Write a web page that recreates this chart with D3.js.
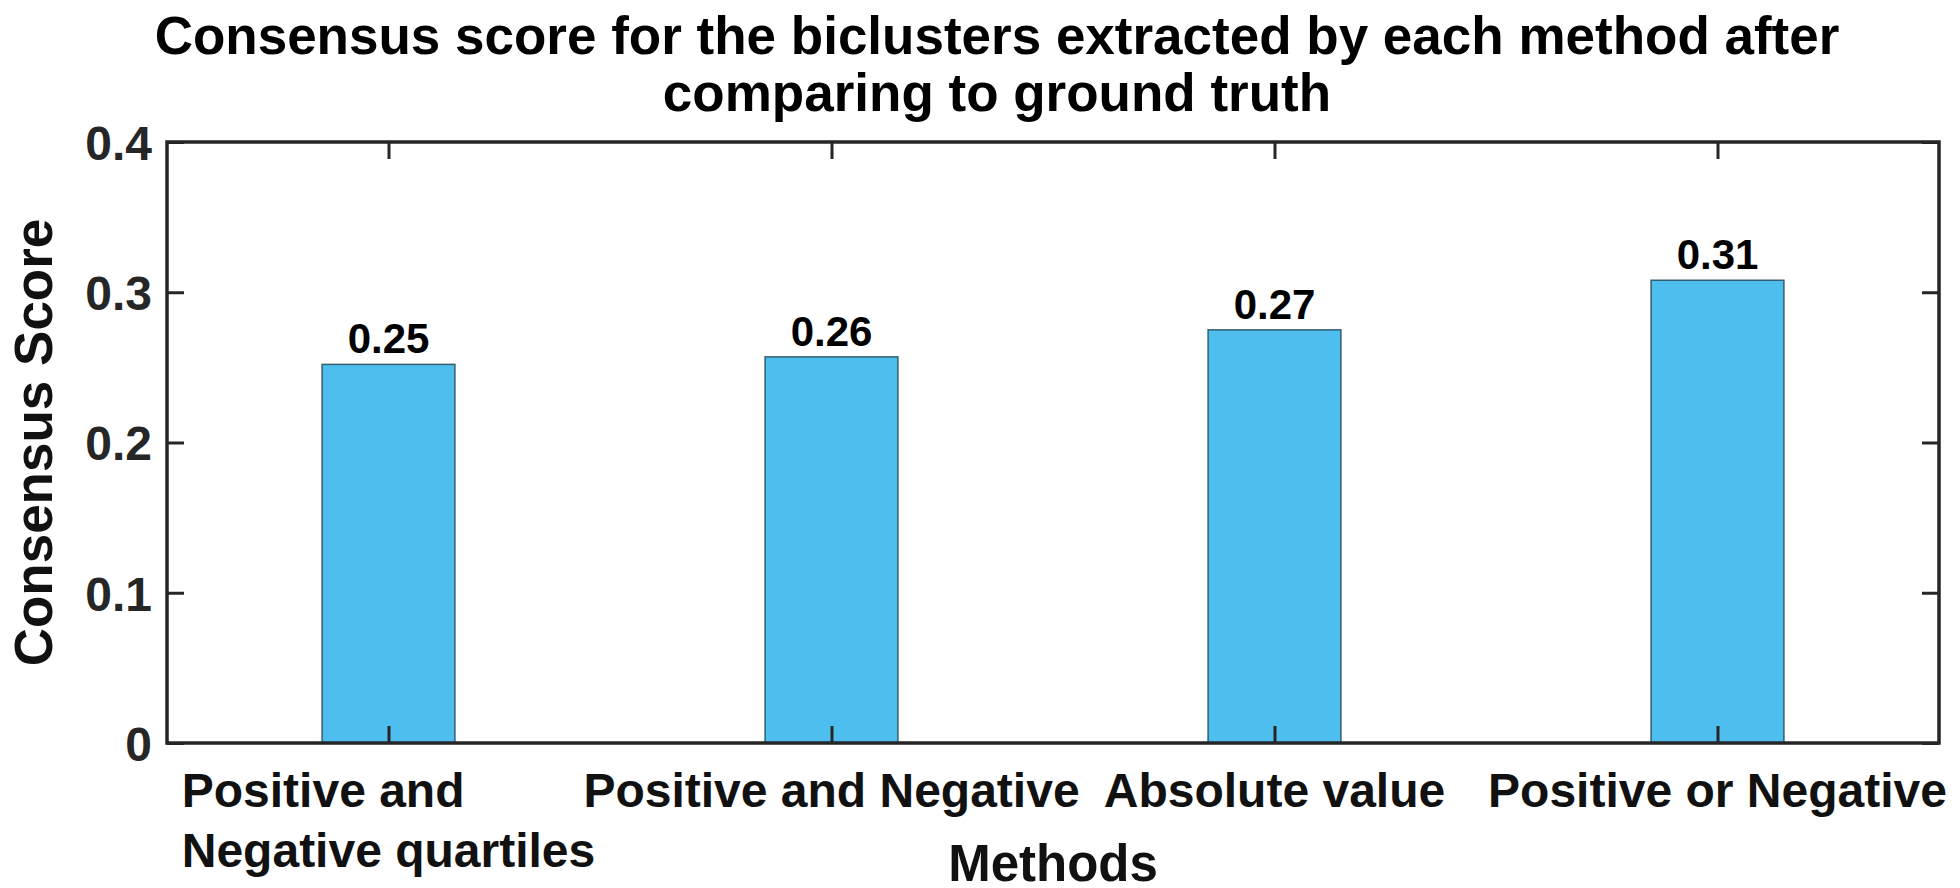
<!DOCTYPE html>
<html>
<head>
  <meta charset='utf-8'>
  <title>Consensus score</title>
  <style type='text/css'>
body{
  margin:0;
  background:#fff;
}
text{
  font-family:'Liberation Sans', Arial, sans-serif;
  font-weight:bold;
}
  </style>
</head>
<body>
<div id='chart'></div>
<script src='https://d3js.org/d3.v7.min.js'></script>
<script type='text/javascript'>

// data
var methods = [['Positive and', 'Negative quartiles'], ['Positive and Negative'], ['Absolute value'], ['Positive or Negative']];
var scores = [0.252, 0.257, 0.275, 0.308];
var scoreLabels = ['0.25', '0.26', '0.27', '0.31'];
var yTicks = [0, 0.1, 0.2, 0.3, 0.4];
var yTickLabels = ['0', '0.1', '0.2', '0.3', '0.4'];
var titleLines = ['Consensus score for the biclusters extracted by each method after', 'comparing to ground truth'];

var W = 1960, H = 888;
// plot box (note: "top" is reserved on window, so use other names)
var boxLeft = 167, boxRight = 1939, boxTop = 142, boxBottom = 743;
var axisColor = '#262626';

var svg = d3.select('#chart').append('svg')
    .attr('width', W)
    .attr('height', H);

var x = d3.scaleBand()
    .domain(d3.range(methods.length))
    .range([boxLeft, boxRight])
    .paddingInner(0.7)
    .paddingOuter(0.35);

var y = d3.scaleLinear()
    .domain([0, 0.4])
    .range([boxBottom, boxTop]);

var xc = function (i) { return x(i) + x.bandwidth() / 2; };

// bars
svg.selectAll('rect.bar')
  .data(scores)
  .enter()
  .append('rect')
    .attr('class', 'bar')
    .attr('x', function (d, i) { return x(i); })
    .attr('y', function (d) { return y(d); })
    .attr('width', x.bandwidth())
    .attr('height', function (d) { return y(0) - y(d); })
    .style('fill', '#4DBEEE')
    .style('stroke', '#1f3f4f')
    .style('stroke-opacity', 0.8)
    .style('stroke-width', 1.5);

// value labels above bars
svg.selectAll('text.val')
  .data(scores)
  .enter()
  .append('text')
    .attr('class', 'val')
    .attr('x', function (d, i) { return xc(i); })
    .attr('y', function (d) { return y(d) - 11; })
    .style('text-anchor', 'middle')
    .style('font-size', '42px')
    .style('fill', '#000')
    .text(function (d, i) { return scoreLabels[i]; });

// axes, ticks pointing inward like matlab
var tickLen = 17;
var xTickScale = d3.scaleOrdinal().domain(d3.range(methods.length)).range(d3.range(methods.length).map(xc));

var gLeft = svg.append('g')
    .attr('transform', 'translate(' + boxLeft + ',0)')
    .call(d3.axisLeft(y).tickValues(yTicks).tickSize(-tickLen).tickPadding(15)
      .tickFormat(function (d, i) { return yTickLabels[i]; }));
gLeft.selectAll('text')
    .attr('dy', '0.36em')
    .style('font-size', '48px')
    .style('fill', axisColor);

var gRight = svg.append('g')
    .attr('transform', 'translate(' + boxRight + ',0)')
    .call(d3.axisRight(y).tickValues(yTicks).tickSize(-tickLen).tickFormat(''));

var gBottom = svg.append('g')
    .attr('transform', 'translate(0,' + boxBottom + ')')
    .call(d3.axisBottom(xTickScale).tickSize(-tickLen).tickFormat(''));

var gTop = svg.append('g')
    .attr('transform', 'translate(0,' + boxTop + ')')
    .call(d3.axisTop(xTickScale).tickSize(-tickLen).tickFormat(''));

[gLeft, gRight, gBottom, gTop].forEach(function (g) {
  g.select('.domain').remove();
  g.selectAll('line').style('stroke', axisColor).style('stroke-width', 3);
});

// box
svg.append('rect')
    .attr('x', boxLeft)
    .attr('y', boxTop)
    .attr('width', boxRight - boxLeft)
    .attr('height', boxBottom - boxTop)
    .style('fill', 'none')
    .style('stroke', axisColor)
    .style('stroke-width', 3.5);

// category labels: lines left aligned inside a block centred on the tick
methods.forEach(function (lines, i) {
  var g = svg.append('g');
  var texts = g.selectAll('text')
    .data(lines)
    .enter()
    .append('text')
      .attr('y', function (d, j) { return 807 + j * 60; })
      .style('font-size', '48px')
      .style('fill', '#111')
      .text(function (d) { return d; });
  var w = 0;
  texts.each(function () { w = Math.max(w, this.getComputedTextLength()); });
  texts.attr('x', xc(i) - w / 2);
});

// axis titles
svg.append('text')
    .attr('x', (boxLeft + boxRight) / 2)
    .attr('y', 881)
    .style('text-anchor', 'middle')
    .style('font-size', '51px')
    .style('fill', '#111')
    .text('Methods');

svg.append('text')
    .attr('transform', 'translate(52,' + (boxTop + boxBottom) / 2 + ') rotate(-90)')
    .style('text-anchor', 'middle')
    .style('font-size', '53px')
    .style('fill', '#111')
    .text('Consensus Score');

// chart title on two lines
svg.selectAll('text.title')
  .data(titleLines)
  .enter()
  .append('text')
    .attr('class', 'title')
    .attr('x', 997)
    .attr('y', function (d, i) { return 54 + i * 57; })
    .style('text-anchor', 'middle')
    .style('font-size', '53px')
    .style('fill', '#000')
    .text(function (d) { return d; });

</script>
</body>
</html>
